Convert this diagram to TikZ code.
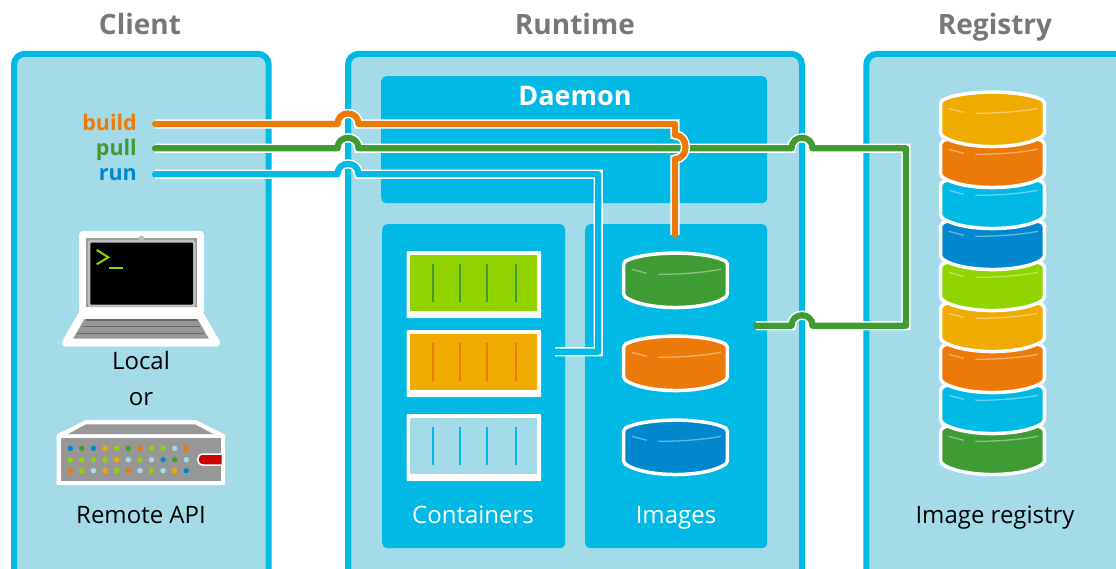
\documentclass[tikz,border=0pt]{standalone}
\usepackage{fontspec}
\setmainfont{Open Sans}
\definecolor{wirecyan}{HTML}{00B9E4}
\definecolor{panelblue}{HTML}{A3DBE8}
\definecolor{wireorange}{HTML}{EC7A08}
\definecolor{wiregreen}{HTML}{3F9C35}
\definecolor{gold}{HTML}{F0AB00}
\definecolor{lime}{HTML}{92D400}
\definecolor{deepblue}{HTML}{0088CE}
\definecolor{headgrey}{HTML}{77777A}
\definecolor{bodygrey}{HTML}{979797}
\newcommand{\hop}[1]{.. controls +(0,-14) and +(0,-14) .. ++(#1,0)}
\tikzset{
  panel/.style={draw=wirecyan,fill=panelblue,line width=6,rounded corners=11,inner sep=0,anchor=north west,minimum height=560},
  block/.style={fill=wirecyan,rounded corners=5,inner sep=0,anchor=north west},
  crate/.style={fill=white,rounded corners=1,inner sep=0,anchor=north west,minimum width=134.5,minimum height=67},
  heading/.style={text=headgrey,anchor=base,font=\fontsize{28}{30}\selectfont\bfseries},
  caption/.style={anchor=base,font=\fontsize{24}{26}\selectfont},
  cmd/.style={font=\fontsize{21.5}{26}\selectfont\bfseries,anchor=base east,inner sep=0},
  cable/.style={line width=6.2,line cap=round,line join=round,color=#1,preaction={draw,white,line width=9.2}},
  pics/disk/.style={code={
    \path[draw=white,fill=#1,line width=3.5,line join=round,rounded corners=2]
      (-51.8,10) .. controls (-30,-1.5) and (30,-1.5) .. (51.8,10) -- (51.8,44)
      .. controls (30,59) and (-30,59) .. (-51.8,44) -- cycle;
    \draw[white,opacity=.4,line width=1.3] (-43.8,17.3) -- (-28.8,21.3);
    \draw[white,opacity=.4,line width=1.3] (-17.2,22.3) .. controls (5,22.3) and (25,21) .. (45.5,17.3);
  }},
}
\begin{document}
\begin{tikzpicture}[x=1pt,y=-1pt]
  \path[use as bounding box,clip] (0,0) rectangle (1116,569);
  \fill[white] (0,0) rectangle (1116,569);
  % Node: Client
  \node[heading] (clienthead) at (140,35) {Client};
  \node[panel,minimum width=254.7] (client) at (11,50.8) {};
  % Node: Runtime
  \node[heading] (runtimehead) at (575,35) {Runtime};
  \node[panel,minimum width=454] (runtime) at (345,50.8) {};
  % Node: Registry
  \node[heading] (registryhead) at (995,35) {Registry};
  \node[panel,minimum width=300] (registry) at (863.3,50.8) {};
  % Node: Daemon
  \node[block,minimum width=386,minimum height=127] (daemon) at (381,76) {};
  \node[anchor=base,text=white,font=\fontsize{27}{30}\selectfont\bfseries] (daemonhead) at (575,106) {Daemon};
  % Node: Containers
  \node[block,minimum width=183,minimum height=324] (containers) at (382,224) {};
  \node[caption,text=white] (containerslabel) at (473,523) {Containers};
  % Node: Images
  \node[block,minimum width=182,minimum height=324] (images) at (585,224) {};
  \node[caption,text=white] (imageslabel) at (676,523) {Images};
  % Containers
  \foreach \y/\body/\bar/\name in {251/lime/wiregreen/crategreen,330/gold/wireorange/crategold,414/panelblue/wirecyan/cratepale}{
    \node[crate] (\name) at (406.5,\y) {};
    \fill[\body] (410,\y+4) rectangle (537,\y+60);
    \foreach \x in {433,460,487,516}
      \draw[\bar,line width=1.4] (\x,\y+13) -- (\x,\y+51);
  }
  % Images
  \pic at (675.5,252) {disk=wiregreen};
  \pic at (675.5,335) {disk=wireorange};
  \pic at (675.5,419) {disk=deepblue};
  % Registry stack
  \foreach \i/\body in {8/wiregreen,7/wirecyan,6/wireorange,5/gold,4/lime,3/deepblue,2/wirecyan,1/wireorange,0/gold}
    \pic at (992.5,91+41*\i) {disk=\body};
  \node[caption] (registrylabel) at (995,523) {Image registry};
  % Laptop
  \path[draw=white,fill=bodygrey,line width=7,line join=round] (82.7,234.7) rectangle (200,310.7);
  \path[draw=white,fill=bodygrey,line width=8,line join=round] (82,315) -- (200,315) -- (216,342.7) -- (66,342.7) -- cycle;
  \fill[black!25,rounded corners=3] (87.7,240) rectangle (195.7,307.3);
  \fill[black,rounded corners=1] (90.3,242.7) rectangle (193,304.7);
  \fill[black!25] (141.3,238.5) circle (3);
  \draw[lime,line width=2] (96.7,250) -- (108.3,257.3) -- (96.7,264.3);
  \draw[lime,line width=2] (109,267.7) -- (122.7,267.7);
  \draw[black!60,line width=1.5] (86,320) -- (196.7,320);
  \draw[black!60,line width=1.5] (82.7,326.7) -- (200,326.7);
  \draw[black!60,line width=1.5] (76.7,333.3) -- (204,333.3);
  \node[caption] (locallabel) at (141,369) {Local};
  \node[caption] (orlabel) at (141,405) {or};
  % Server
  \fill[white,rounded corners=1] (86,420) -- (196,420) -- (225,434.5) -- (225,485) -- (56.7,485) -- (56.7,434.5) -- cycle;
  \fill[bodygrey] (68.3,434) -- (86,424.3) -- (195,424.3) -- (213.3,434) -- cycle;
  \fill[bodygrey] (60.7,438) rectangle (221,481.3);
  \draw[white,fill=red!80!black,line width=1.5] (221.7,454) -- (203,454) .. controls (196,454) and (196,465) .. (203,465) -- (221.7,465);
  \foreach \row/\y/\dots in {0/448.3/{deepblue,wiregreen,deepblue,gold,lime,wiregreen,wireorange,lime,lime,panelblue,wireorange},
    1/459.7/{lime,lime,lime,lime,gold,panelblue,lime,panelblue,deepblue,wiregreen,panelblue},
    2/470.7/{wireorange,lime,panelblue,gold,lime,wireorange,panelblue,lime,panelblue,gold,deepblue}}
    \foreach \c [count=\n from 0] in \dots
      \fill[\c] (70.3+11.6*\n,\y) circle (2.7);
  \node[caption] (remotelabel) at (141,523) {Remote API};
  % Commands
  \node[cmd,text=wireorange] (build) at (137,131) {build};
  \node[cmd,text=wiregreen] (pull) at (137,155.5) {pull};
  \node[cmd,text=deepblue] (run) at (137,181) {run};
  \coordinate (buildstart) at (155,124);
  \coordinate (buildhop) at (337.5,124);
  \coordinate (buildturn) at (675,124);
  \coordinate (buildarc) at (675,135);
  \coordinate (buildback) at (675,159);
  \coordinate (buildend) at (675,235);
  \coordinate (pullstart) at (155,148.3);
  \coordinate (pullhop) at (337.5,148.3);
  \coordinate (pullgap) at (791.5,148.3);
  \coordinate (pullturn) at (906,148.3);
  \coordinate (pulldown) at (906,325.7);
  \coordinate (pullback) at (812.5,325.7);
  \coordinate (pullend) at (756,325.7);
  \coordinate (runstart) at (155,174.3);
  \coordinate (runhop) at (337.5,174.3);
  \coordinate (runturn) at (598.3,174.3);
  \coordinate (rundown) at (598.3,351.7);
  \coordinate (runend) at (555,351.7);
  % Edge: pull -> Images and Image registry
  \draw[cable=wiregreen] (pullstart) -- (pullhop) \hop{21} -- (pullgap) \hop{21} -- (pullturn) -- (pulldown) -- (pullback) \hop{-21} -- (pullend);
  % Edge: run -> Containers
  \draw[cable=wirecyan] (runstart) -- (runhop) \hop{21} -- (runturn) -- (rundown) -- (runend);
  % Edge: build -> Images
  \draw[cable=wireorange] (buildstart) -- (buildhop) \hop{21} -- (buildturn) -- (buildarc) .. controls +(14,0) and +(14,0) .. (buildback) -- (buildend);
\end{tikzpicture}
\end{document}
